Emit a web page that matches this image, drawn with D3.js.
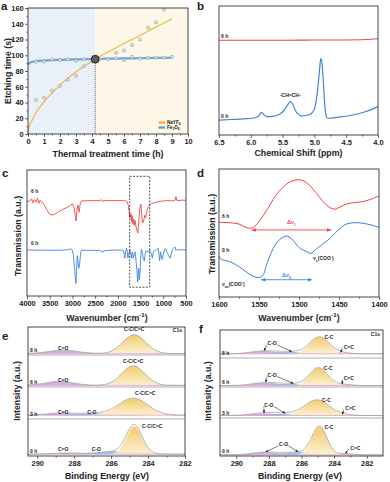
<!DOCTYPE html>
<html>
<head>
<meta charset="utf-8">
<script src="https://cdn.jsdelivr.net/npm/d3@7"></script>
<style>
  body { margin: 0; background: #fff; }
  svg { display: block; }
  svg text { font-family: "Liberation Sans", Arial, sans-serif; font-weight: bold; }
</style>
</head>
<body>
<script>
// ---------- data ----------
// a: etching time (s) vs thermal treatment time (h)
const naPoints = [[0.5,43],[1,46],[1.5,55],[2,61],[2.5,69],[3,74],[3.5,86],[4,92],[5.5,103],[6,106],[6.5,113],[7,120],[7.5,135],[8,142],[8.5,158]];
const fePoints = [[0.5,92],[1,92],[1.5,95],[2,94],[2.5,95],[3,93],[3.5,95],[4.5,95],[5,95],[5.5,96],[6,94],[6.5,98],[7,96],[7.5,97],[8,97],[8.5,97],[9,98]];
const naFit = [[0,0],[0.05,7],[0.15,13],[0.3,19],[0.5,27],[0.75,34],[1,41],[1.5,52],[2,62],[2.5,71],[3,79],[3.5,86],[4.2,95],[5,104],[6,115],[7,125],[8,136],[9,146]];
const feFit = [[0,88],[0.05,89.5],[0.15,90.8],[0.3,91.8],[0.5,92.5],[1,93.3],[2,94.2],[3,94.8],[4.2,95.3],[5,95.6],[6,96],[7,96.3],[8,96.6],[9,96.9]];
const crossPoint = [4.2, 95];
const aXTicks = [0,1,2,3,4,5,6,7,8,9,10];
const aYTicks = [0,20,40,60,80,100,120,140,160];

// b: 1H NMR (ppm, intensity a.u.)
const nmr0h = [[6.5,0.116],[6.3,0.12],[6.1,0.125],[5.95,0.132],[5.88,0.145],[5.83,0.176],[5.79,0.155],[5.75,0.142],[5.65,0.145],[5.55,0.16],[5.48,0.19],[5.43,0.225],[5.38,0.258],[5.34,0.24],[5.3,0.19],[5.25,0.16],[5.2,0.148],[5.1,0.155],[5.03,0.175],[4.99,0.22],[4.95,0.35],[4.92,0.5],[4.9,0.595],[4.88,0.55],[4.86,0.42],[4.84,0.25],[4.82,0.16],[4.8,0.13],[4.6,0.14],[4.4,0.155],[4.2,0.18],[4.0,0.22]];
const nmr6h = [[6.5,0.735],[5.5,0.735],[5.0,0.736],[4.5,0.737],[4.2,0.74],[4.0,0.746]];
const bTicks = [6.5,6.0,5.5,5.0,4.5,4.0];

// c: FTIR full range (cm-1, transmission a.u.)
const ftir6h = [[4000,0.755],[3950,0.75],[3900,0.77],[3870,0.74],[3840,0.765],[3800,0.745],[3770,0.775],[3740,0.735],[3710,0.76],[3680,0.745],[3650,0.74],[3600,0.71],[3550,0.675],[3500,0.65],[3450,0.642],[3400,0.648],[3300,0.67],[3200,0.69],[3100,0.705],[3050,0.72],[3000,0.73],[2960,0.7],[2935,0.63],[2920,0.595],[2900,0.68],[2880,0.72],[2865,0.7],[2850,0.665],[2830,0.73],[2800,0.755],[2600,0.757],[2400,0.757],[2360,0.764],[2340,0.752],[2300,0.757],[2000,0.757],[1850,0.757],[1800,0.75],[1770,0.72],[1750,0.66],[1730,0.62],[1715,0.655],[1700,0.59],[1685,0.64],[1670,0.57],[1655,0.61],[1640,0.56],[1620,0.6],[1600,0.55],[1580,0.52],[1560,0.5],[1545,0.56],[1530,0.64],[1510,0.71],[1495,0.73],[1480,0.68],[1465,0.61],[1450,0.58],[1430,0.6],[1410,0.64],[1390,0.62],[1370,0.66],[1350,0.69],[1320,0.71],[1300,0.725],[1250,0.735],[1200,0.74],[1150,0.745],[1100,0.75],[1000,0.755],[900,0.757],[800,0.755],[740,0.76],[720,0.79],[705,0.76],[650,0.757],[600,0.76],[500,0.76]];
const ftir0h = [[4000,0.365],[3500,0.363],[3200,0.364],[3100,0.368],[3050,0.375],[3010,0.37],[2980,0.33],[2950,0.2],[2925,0.1],[2910,0.2],[2895,0.32],[2880,0.28],[2860,0.22],[2845,0.24],[2820,0.34],[2800,0.363],[2400,0.362],[2360,0.355],[2340,0.345],[2320,0.358],[2200,0.363],[1950,0.365],[1880,0.36],[1860,0.33],[1845,0.3],[1830,0.35],[1810,0.38],[1795,0.36],[1780,0.3],[1765,0.32],[1740,0.37],[1720,0.35],[1700,0.3],[1680,0.35],[1660,0.3],[1640,0.33],[1620,0.35],[1600,0.28],[1580,0.2],[1565,0.11],[1550,0.17],[1540,0.22],[1525,0.13],[1510,0.2],[1495,0.32],[1480,0.37],[1460,0.345],[1440,0.3],[1420,0.28],[1400,0.33],[1380,0.36],[1340,0.35],[1300,0.365],[1260,0.33],[1240,0.3],[1220,0.35],[1200,0.36],[1150,0.365],[1110,0.38],[1095,0.33],[1080,0.28],[1060,0.35],[1040,0.31],[1025,0.29],[1000,0.33],[970,0.37],[950,0.375],[920,0.35],[880,0.32],[850,0.3],[820,0.34],[800,0.37],[770,0.38],[745,0.39],[720,0.36],[690,0.37],[650,0.365],[600,0.368],[500,0.365]];
const ftirBox = [[1740, 0.07], [1300, 0.95]];
const cTicks = [4000,3500,3000,2500,2000,1500,1000,500];

// d: FTIR carboxylate zoom
const coo6h = [[1600,0.584],[1590,0.581],[1580,0.576],[1575,0.57],[1570,0.555],[1565,0.542],[1560,0.537],[1555,0.555],[1550,0.589],[1545,0.633],[1540,0.68],[1530,0.785],[1520,0.858],[1510,0.903],[1500,0.916],[1490,0.89],[1480,0.825],[1470,0.746],[1460,0.694],[1455,0.686],[1450,0.699],[1440,0.728],[1430,0.738],[1420,0.746],[1410,0.764],[1400,0.79]];
const coo0h = [[1600,0.319],[1597,0.293],[1590,0.283],[1580,0.257],[1570,0.215],[1560,0.17],[1550,0.152],[1545,0.17],[1540,0.262],[1530,0.406],[1520,0.466],[1515,0.477],[1510,0.458],[1500,0.388],[1490,0.353],[1485,0.34],[1480,0.367],[1470,0.414],[1460,0.466],[1450,0.529],[1440,0.571],[1430,0.581],[1420,0.576],[1410,0.563],[1400,0.544]];
const delta1 = [1559, 1460, 0.524];
const delta0 = [1547, 1484, 0.135];
const dTicks = [1600,1550,1500,1450,1400];

// e, f: C1s XPS, strips top→bottom; peaks as [centre eV, height (strip fraction), sigma eV]
const xpsTimes = ['8 h','6 h','3 h','0 h'];
const eBase = [0.05,0.05,0.12,0.05];
const eCC   = [[284.75,0.67,0.62],[284.8,0.61,0.62],[284.8,0.53,0.78],[284.75,0.75,0.42]];
const eCO   = [null,null,[286.9,0.05,0.9],[285.6,0.08,1.0]];
const eCdO  = [[288.6,0.12,0.8],[288.8,0.125,0.75],[288.7,0.06,0.8],[288.5,0.03,0.7]];
const fBase = [0.15,0.05,0.08,0.03];
const fCC   = [[284.9,0.6,0.6],[284.95,0.61,0.55],[285.05,0.5,0.75],[284.9,0.745,0.45]];
const fCO1  = [[288.3,0.1,0.8],[288.2,0.1,0.8],[288.3,0.07,0.8],[288.2,0.07,0.8]];
const fCO2  = [[286.6,0.07,0.8],[286.5,0.06,0.8],[287.0,0.06,0.9],[286.2,0.07,0.8]];
const fCdC  = [[283.6,0.04,0.5],[283.5,0.04,0.5],[283.5,0.03,0.5],[283.3,0.03,0.5]];
const xpsTicks = [290,288,286,284,282];

// ---------- drawing ----------
const INK = '#222', FRAME = '#333', RED = '#f24545', BLUE = '#3e84da';
const svg = d3.select('body').append('svg').attr('width', 390).attr('height', 482);
const defs = svg.append('defs');

function marker(id, color, size) {
  defs.append('marker').attr('id', id).attr('viewBox', '0 0 6 6')
    .attr('refX', 5.5).attr('refY', 3).attr('markerWidth', size).attr('markerHeight', size)
    .attr('markerUnits', 'userSpaceOnUse').attr('orient', 'auto-start-reverse')
    .append('path').attr('d', 'M0,0.6 L6,3 L0,5.4 Z').attr('fill', color);
}
marker('arrRed', RED, 4.5);
marker('arrBlue', BLUE, 4.5);
marker('arrInk', INK, 3);

const yel = defs.append('linearGradient').attr('id', 'yel').attr('x1', 0).attr('y1', 0).attr('x2', 0).attr('y2', 1);
yel.append('stop').attr('offset', '0%').attr('stop-color', '#f2c964');
yel.append('stop').attr('offset', '100%').attr('stop-color', '#fdf0cf');

function text(s, x, y, size, opts = {}) {
  const t = svg.append('text').attr('x', x).attr('y', y).attr('font-size', size)
    .attr('fill', opts.fill || INK).attr('text-anchor', opts.anchor || 'start');
  if (opts.rotate) t.attr('transform', `rotate(-90,${x},${y})`);
  let shift = 0;
  const parts = Array.isArray(s) ? s : [s];
  parts.forEach(p => {
    const [str, k] = typeof p === 'string' ? [p, 'n'] : p;
    const target = k === 'sub' ? size * 0.3 : k === 'sup' ? -size * 0.4 : 0;
    t.append('tspan').attr('dy', target - shift).attr('font-size', k === 'n' ? size : size * 0.7).text(str);
    shift = target;
  });
  return t;
}

function frame(x0, y0, x1, y1) {
  svg.append('rect').attr('x', x0).attr('y', y0).attr('width', x1 - x0).attr('height', y1 - y0)
    .attr('fill', 'none').attr('stroke', FRAME).attr('stroke-width', 0.9);
}

// make() returns a fresh d3 axis generator
function axis(make, pos, horizontal, major, minor, fmt) {
  const tr = horizontal ? `translate(0,${pos})` : `translate(${pos},0)`;
  if (minor) {
    const gm = svg.append('g').attr('transform', tr).call(make().tickValues(minor).tickSize(1.6).tickFormat(''));
    gm.select('.domain').remove();
    gm.selectAll('line').attr('stroke', FRAME).attr('stroke-width', 0.7);
  }
  const g = svg.append('g').attr('transform', tr)
    .call(make().tickValues(major).tickSize(2.8).tickPadding(1.6).tickFormat(fmt));
  g.select('.domain').remove();
  g.selectAll('line').attr('stroke', FRAME).attr('stroke-width', 0.8);
  g.selectAll('text').attr('font-size', 7.4).attr('fill', INK);
}

// ===== panel a =====
const ax = d3.scaleLinear().domain([0, 10]).range([28, 188]);
const ay = d3.scaleLinear().domain([0, 160]).range([134, 8]);
svg.append('rect').attr('x', ax(0)).attr('y', ay(160)).attr('width', ax(crossPoint[0]) - ax(0))
  .attr('height', ay(0) - ay(160)).attr('fill', '#eaf0f7');
svg.append('rect').attr('x', ax(crossPoint[0])).attr('y', ay(160)).attr('width', ax(10) - ax(crossPoint[0]))
  .attr('height', ay(0) - ay(160)).attr('fill', '#fdf7e8');
svg.append('line').attr('x1', ax(crossPoint[0])).attr('x2', ax(crossPoint[0]))
  .attr('y1', ay(crossPoint[1])).attr('y2', ay(0))
  .attr('stroke', '#333').attr('stroke-width', 0.8).attr('stroke-dasharray', '1,1');
const aLine = d3.line().x(d => ax(d[0])).y(d => ay(d[1])).curve(d3.curveMonotoneX);
svg.append('path').datum(feFit).attr('d', aLine).attr('fill', 'none')
  .attr('stroke', '#5d9fe0').attr('stroke-width', 2.2).attr('opacity', 0.9);
svg.append('path').datum(naFit).attr('d', aLine).attr('fill', 'none')
  .attr('stroke', '#f5b540').attr('stroke-width', 1.2);
svg.selectAll('.pt').data(naPoints.concat(fePoints)).join('circle')
  .attr('cx', d => ax(d[0])).attr('cy', d => ay(d[1])).attr('r', 1.5)
  .attr('fill', '#ececec').attr('stroke', '#8a8a8a').attr('stroke-width', 0.6);
svg.append('circle').attr('cx', ax(crossPoint[0])).attr('cy', ay(crossPoint[1])).attr('r', 3.9)
  .attr('fill', '#5c5c5c').attr('stroke', '#1e1e1e').attr('stroke-width', 0.9);
frame(28, 8, 188, 134);
axis(() => d3.axisBottom(ax), 134, true, aXTicks, d3.range(0.5, 10, 1), d3.format('d'));
axis(() => d3.axisLeft(ay), 28, false, aYTicks, d3.range(10, 160, 20), d3.format('d'));
// legend
[['#f5b540', ['NaYF', ['4', 'sub']]], ['#5d9fe0', ['Fe', ['3', 'sub'], 'O', ['4', 'sub']]]].forEach((l, i) => {
  const y = 122.5 + i * 5;
  svg.append('line').attr('x1', 158.5).attr('x2', 165).attr('y1', y).attr('y2', y)
    .attr('stroke', l[0]).attr('stroke-width', 2.4);
  text(l[1], 167, y + 1.6, 4.6);
});
text('a', 1, 10, 11.5);
text('Etching time (s)', 10.5, 71, 8.8, { anchor: 'middle', rotate: true });
text('Thermal treatment time (h)', 108, 157, 8.8, { anchor: 'middle' });

// ===== panel b =====
const bx = d3.scaleLinear().domain([6.5, 4.0]).range([219, 378]);
const by = d3.scaleLinear().domain([0, 1]).range([135, 6]);
const bLine = d3.line().x(d => bx(d[0])).y(d => by(d[1])).curve(d3.curveMonotoneX);
svg.append('path').datum(nmr6h).attr('d', bLine).attr('fill', 'none').attr('stroke', RED).attr('stroke-width', 1.1);
svg.append('path').datum(nmr0h).attr('d', bLine).attr('fill', 'none').attr('stroke', BLUE).attr('stroke-width', 1.2);
frame(219, 6, 378, 135);
axis(() => d3.axisBottom(bx), 135, true, bTicks, d3.range(4.25, 6.5, 0.5), d3.format('.1f'));
text('b', 197, 10, 11.5);
text('6 h', 221, 37.5, 5);
text('0 h', 221, 117.5, 5);
text('-CH=CH-', bx(5.38), 96.5, 5, { anchor: 'middle' });
text('Chemical Shift (ppm)', 298.5, 156, 8.8, { anchor: 'middle' });

// ===== panel c =====
const cx = d3.scaleLinear().domain([4000, 500]).range([27, 186]);
const cy = d3.scaleLinear().domain([0, 1]).range([296, 170]);
const cLine = d3.line().x(d => cx(d[0])).y(d => cy(d[1]));
svg.append('path').datum(ftir6h).attr('d', cLine).attr('fill', 'none').attr('stroke', RED).attr('stroke-width', 0.9);
svg.append('path').datum(ftir0h).attr('d', cLine).attr('fill', 'none').attr('stroke', BLUE).attr('stroke-width', 0.9);
svg.append('rect').attr('x', cx(ftirBox[0][0])).attr('y', cy(ftirBox[1][1]))
  .attr('width', cx(ftirBox[1][0]) - cx(ftirBox[0][0])).attr('height', cy(ftirBox[0][1]) - cy(ftirBox[1][1]))
  .attr('fill', 'none').attr('stroke', INK).attr('stroke-width', 0.8).attr('stroke-dasharray', '2,1.4');
frame(27, 170, 186, 296);
axis(() => d3.axisBottom(cx), 296, true, cTicks, d3.range(750, 4000, 500), d3.format('d'));
text('c', 2, 177, 11.5);
text('6 h', 31, 193, 5);
text('0 h', 31, 244.5, 5);
text('Transmission (a.u.)', 21, 236, 8.8, { anchor: 'middle', rotate: true });
text(['Wavenumber (cm', ['-1', 'sup'], ')'], 107, 321, 8.8, { anchor: 'middle' });

// ===== panel d =====
const dx = d3.scaleLinear().domain([1600, 1400]).range([219, 379]);
const dy = d3.scaleLinear().domain([0, 1]).range([297, 169]);
const dLine = d3.line().x(d => dx(d[0])).y(d => dy(d[1])).curve(d3.curveMonotoneX);
svg.append('path').datum(coo6h).attr('d', dLine).attr('fill', 'none').attr('stroke', RED).attr('stroke-width', 1);
svg.append('path').datum(coo0h).attr('d', dLine).attr('fill', 'none').attr('stroke', BLUE).attr('stroke-width', 1);
[[delta1, RED, 'arrRed'], [delta0, BLUE, 'arrBlue']].forEach(([d, c, m]) => {
  svg.append('line').attr('x1', dx(d[0])).attr('x2', dx(d[1])).attr('y1', dy(d[2])).attr('y2', dy(d[2]))
    .attr('stroke', c).attr('stroke-width', 0.9)
    .attr('marker-start', `url(#${m})`).attr('marker-end', `url(#${m})`);
});
text(['Δν', ['1', 'sub']], (dx(delta1[0]) + dx(delta1[1])) / 2, dy(delta1[2]) - 5.5, 5.4, { anchor: 'middle', fill: RED });
text(['Δν', ['0', 'sub']], (dx(delta0[0]) + dx(delta0[1])) / 2, dy(delta0[2]) - 2.5, 5.4, { anchor: 'middle', fill: BLUE });
frame(219, 169, 379, 297);
axis(() => d3.axisBottom(dx), 297, true, dTicks, d3.range(1575, 1400, -50), d3.format('d'));
text('d', 197, 177, 11.5);
text('6 h', 222, 217.5, 5);
text('0 h', 222, 252, 5);
text(['ν', ['as', 'sub'], '(COO', ['-', 'sup'], ')'], 222, 286, 5);
text(['ν', ['s', 'sub'], '(COO', ['-', 'sup'], ')'], 313, 260, 5);
text('Transmission (a.u.)', 215, 234, 8.8, { anchor: 'middle', rotate: true });
text(['Wavenumber (cm', ['-1', 'sup'], ')'], 299, 321, 8.8, { anchor: 'middle' });

// ===== panels e, f =====
const gauss = (p, E) => p ? p[1] * Math.exp(-0.5 * ((E - p[0]) / p[2]) ** 2) : 0;

function xpsPanel(x, bands, base, comps, Es) {
  const strips = [];
  bands.slice(0, -1).forEach((top, i) => {
    const bot = bands[i + 1];
    const y = d3.scaleLinear().domain([0, 1]).range([bot, top]);
    const b0 = base[i];
    comps.forEach(c => {
      const p = c.data[i];
      if (!p) return;
      const area = d3.area().x(E => x(E)).y0(y(b0)).y1(E => y(b0 + gauss(p, E)));
      svg.append('path').datum(Es).attr('d', area).attr('fill', c.fill).attr('opacity', c.op);
    });
    svg.append('line').attr('x1', x.range()[0]).attr('x2', x.range()[1]).attr('y1', y(b0)).attr('y2', y(b0))
      .attr('stroke', '#d89bc4').attr('stroke-width', 0.7);
    const env = d3.line().x(E => x(E)).y(E => y(b0 + d3.sum(comps, c => gauss(c.data[i], E))));
    svg.append('path').datum(Es).attr('d', env).attr('fill', 'none').attr('stroke', '#9d9d9d').attr('stroke-width', 0.8);
    if (i > 0) svg.append('line').attr('x1', x.range()[0]).attr('x2', x.range()[1]).attr('y1', top).attr('y2', top)
      .attr('stroke', '#7a7a7a').attr('stroke-width', 0.6);
    strips.push({ y, top, bot, b0 });
  });
  return strips;
}

// e
const ex = d3.scaleLinear().domain([290.5, 282]).range([28, 185]);
const eBands = [327, 355, 387, 419, 456];
const eStrips = xpsPanel(ex, eBands, eBase, [
  { data: eCdO, fill: '#c596dc', op: 0.75 },
  { data: eCO, fill: '#64b3ea', op: 0.75 },
  { data: eCC, fill: 'url(#yel)', op: 0.95 }
], d3.range(282, 290.501, 0.05));
const eLabDx = [0, 0, 12, 18], eLabDy = [-3.5, -3, -3, 2];
eStrips.forEach((s, i) => {
  text(xpsTimes[i], 30, s.bot - 3, 5);
  text('C=O', ex(288.6), s.bot - 5, 5, { anchor: 'middle' });
  if (eCO[i]) text('C-O', ex([null, null, 287.05, 286.8][i]), s.bot - 5, 5, { anchor: 'middle' });
  const top = s.y(s.b0 + eCC[i][1]);
  text('C-C/C=C', ex(eCC[i][0]) + eLabDx[i], top + eLabDy[i], 5, { anchor: 'middle' });
});
text('C1s', 182, 332, 5, { anchor: 'end' });
frame(28, 327, 185, 456);
axis(() => d3.axisBottom(ex), 456, true, xpsTicks, d3.range(289, 282, -2), d3.format('d'));
text('e', 2, 340, 11.5);
text('Intensity (a.u.)', 19.5, 391, 8.8, { anchor: 'middle', rotate: true });
text('Binding Energy (eV)', 107, 479, 8.8, { anchor: 'middle' });

// f
const fx = d3.scaleLinear().domain([291, 281]).range([220, 383]);
const fBands = [330, 358, 387, 418, 456];
const fStrips = xpsPanel(fx, fBands, fBase, [
  { data: fCO1, fill: '#c596dc', op: 0.75 },
  { data: fCO2, fill: '#64b3ea', op: 0.75 },
  { data: fCdC, fill: '#f4a6c4', op: 0.8 },
  { data: fCC, fill: 'url(#yel)', op: 0.95 }
], d3.range(281, 291.001, 0.05));
const fCOLab = [287.8, 287.8, 288.0, 287.1], fCdCLab = [283.1, 283.1, 283.0, 282.7];
function inkArrow(x1, y1, x2, y2) {
  svg.append('line').attr('x1', x1).attr('y1', y1).attr('x2', x2).attr('y2', y2)
    .attr('stroke', INK).attr('stroke-width', 0.6).attr('marker-end', 'url(#arrInk)');
}
fStrips.forEach((s, i) => {
  const by0 = s.y(s.b0);
  text(xpsTimes[i], 222, s.bot - 3, 5);
  const top = s.y(s.b0 + fCC[i][1]);
  text('C-C', fx(fCC[i][0]) + 5, top + 2, 5);
  const lx = fx(fCOLab[i]), ly = by0 - 8.5;
  text('C-O', lx, ly, 5, { anchor: 'middle' });
  inkArrow(lx - 5, ly - 0.5, fx(fCO1[i][0]), s.y(s.b0 + fCO1[i][1]) - 0.3);
  inkArrow(lx + 5, ly - 0.5, fx(fCO2[i][0]), s.y(s.b0 + fCO2[i][1]) - 0.3);
  const cx2 = fx(fCdCLab[i]), cy2 = by0 - 5.3;
  text('C=C', cx2, cy2, 5, { anchor: 'middle' });
  inkArrow(cx2 - 6.5, cy2 - 0.5, fx(fCdC[i][0]), s.y(s.b0 + fCdC[i][1]) - 0.2);
});
text('C1s', 380, 336, 5, { anchor: 'end' });
frame(220, 330, 383, 456);
axis(() => d3.axisBottom(fx), 456, true, xpsTicks, d3.range(289, 281, -2), d3.format('d'));
text('f', 199, 333, 11.5);
text('Intensity (a.u.)', 210.5, 391, 8.8, { anchor: 'middle', rotate: true });
text('Binding Energy (eV)', 300, 479, 8.8, { anchor: 'middle' });
</script>
</body>
</html>
